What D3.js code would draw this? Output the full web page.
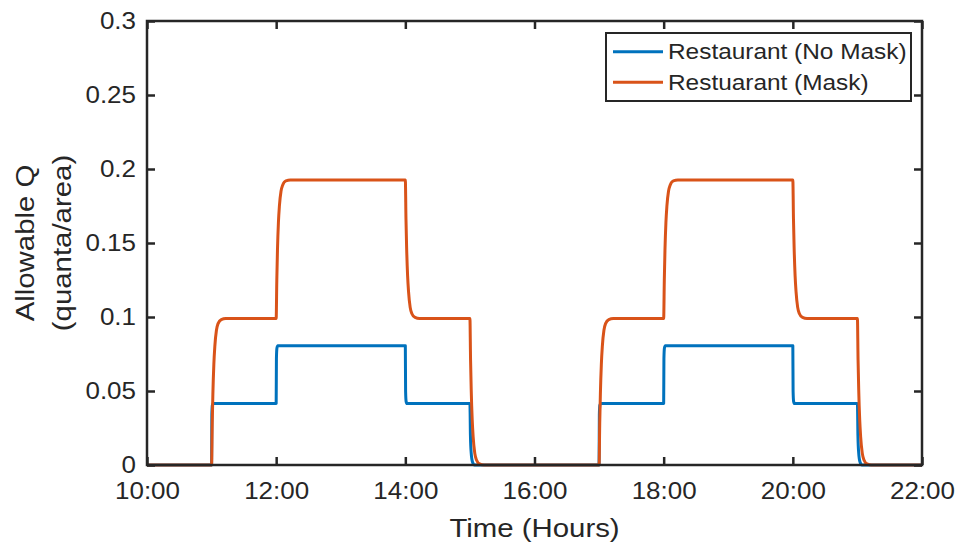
<!DOCTYPE html>
<html>
<head>
<meta charset="utf-8">
<script src="https://cdn.jsdelivr.net/npm/d3@7/dist/d3.min.js"></script>
<style>
  html, body { margin: 0; padding: 0; background: #fff; }
  svg text { font-family: "Liberation Sans", Arial, Helvetica, sans-serif; fill: #262626; }
</style>
</head>
<body>
<svg id="chart" width="961" height="549"></svg>
<script>
// Allowable quanta emission rate per floor area over a restaurant's opening hours

// Time (hours) and allowable Q for the restaurant without masks
const hoursNoMask = [
  10, 11, 11.004, 11.012, 11.025, 12, 12.004, 12.012, 12.025,
  14, 14.004, 14.012, 14.025, 15, 15.008, 15.02, 15.04, 15.07,
  17, 17.004, 17.012, 17.025, 18, 18.004, 18.012, 18.025,
  20, 20.004, 20.012, 20.025, 21, 21.008, 21.02, 21.04, 21.07, 22
];
const qNoMask = [
  0, 0, 0.034, 0.0405, 0.0415, 0.0415, 0.072, 0.079, 0.0806,
  0.0806, 0.05, 0.043, 0.0415, 0.0415, 0.02, 0.008, 0.002, 0,
  0, 0.034, 0.0405, 0.0415, 0.0415, 0.072, 0.079, 0.0806,
  0.0806, 0.05, 0.043, 0.0415, 0.0415, 0.02, 0.008, 0.002, 0, 0
];

// Time (hours) and allowable Q for the restaurant with masks
const hoursMask = [
  10,
  11, 11.01, 11.02, 11.035, 11.05, 11.075, 11.1, 11.15, 11.22,
  12, 12.01, 12.02, 12.035, 12.05, 12.075, 12.1, 12.15, 12.22,
  14, 14.01, 14.02, 14.035, 14.05, 14.075, 14.1, 14.15, 14.22,
  15, 15.01, 15.02, 15.035, 15.05, 15.075, 15.1, 15.15, 15.22,
  17, 17.01, 17.02, 17.035, 17.05, 17.075, 17.1, 17.15, 17.22,
  18, 18.01, 18.02, 18.035, 18.05, 18.075, 18.1, 18.15, 18.22,
  20, 20.01, 20.02, 20.035, 20.05, 20.075, 20.1, 20.15, 20.22,
  21, 21.01, 21.02, 21.035, 21.05, 21.075, 21.1, 21.15, 21.22,
  22
];
const qMask = [
  0,
  0, 0.028, 0.048, 0.068, 0.080, 0.091, 0.0955, 0.0983, 0.099,
  0.099, 0.125, 0.145, 0.164, 0.175, 0.185, 0.189, 0.192, 0.1925,
  0.1925, 0.166, 0.147, 0.128, 0.117, 0.1065, 0.1024, 0.0997, 0.099,
  0.099, 0.071, 0.051, 0.031, 0.019, 0.008, 0.0036, 0.0007, 0,
  0, 0.028, 0.048, 0.068, 0.080, 0.091, 0.0955, 0.0983, 0.099,
  0.099, 0.125, 0.145, 0.164, 0.175, 0.185, 0.189, 0.192, 0.1925,
  0.1925, 0.166, 0.147, 0.128, 0.117, 0.1065, 0.1024, 0.0997, 0.099,
  0.099, 0.071, 0.051, 0.031, 0.019, 0.008, 0.0036, 0.0007, 0,
  0
];

const seriesNames = ["Restaurant (No Mask)", "Restuarant (Mask)"];
const xTicks = [10, 12, 14, 16, 18, 20, 22];
const xTickLabels = ["10:00", "12:00", "14:00", "16:00", "18:00", "20:00", "22:00"];
const yTicks = [0, 0.05, 0.1, 0.15, 0.2, 0.25, 0.3];
const yTickLabels = ["0", "0.05", "0.1", "0.15", "0.2", "0.25", "0.3"];

const colors = ["#0072BD", "#D95319"];
const axisColor = "#262626";
const stretch = 1.13;   // horizontal glyph widening

const svg = d3.select("#chart");
const plot = { left: 147, right: 922, top: 21, bottom: 465 };

const x = d3.scaleLinear().domain([10, 22]).range([plot.left, plot.right]);
const y = d3.scaleLinear().domain([0, 0.3]).range([plot.bottom, plot.top]);

// Data lines
const line = d3.line()
  .x(d => x(d[0]))
  .y(d => y(d[1]))
  .curve(d3.curveMonotoneX);

const series = [
  d3.zip(hoursNoMask, qNoMask),
  d3.zip(hoursMask, qMask)
];

svg.append("g")
  .selectAll("path")
  .data(series)
  .join("path")
  .attr("d", line)
  .attr("fill", "none")
  .attr("stroke", (d, i) => colors[i])
  .attr("stroke-width", 3)
  .attr("stroke-linejoin", "round");

// Axes with inward ticks on all four sides
function styleAxis(g) {
  g.select(".domain").remove();
  g.selectAll(".tick line").attr("stroke", axisColor).attr("stroke-width", 2.5);
  g.selectAll(".tick text")
    .attr("fill", axisColor)
    .style("font-family", "'Liberation Sans', Arial, sans-serif")
    .style("font-size", "23px");
}

const yLabelMap = new Map(yTicks.map((v, i) => [v, yTickLabels[i]]));
const xLabelMap = new Map(xTicks.map((v, i) => [v, xTickLabels[i]]));

const gx = svg.append("g")
  .attr("transform", `translate(0,${plot.bottom})`)
  .call(d3.axisBottom(x).tickValues(xTicks).tickFormat(d => xLabelMap.get(d))
    .tickSizeInner(-8).tickSizeOuter(0).tickPadding(18))
  .call(styleAxis);
gx.selectAll(".tick text").attr("transform", `scale(${stretch},1)`);

const yPad = 11;
const gy = svg.append("g")
  .attr("transform", `translate(${plot.left},0)`)
  .call(d3.axisLeft(y).tickValues(yTicks).tickFormat(d => yLabelMap.get(d))
    .tickSizeInner(-8).tickSizeOuter(0).tickPadding(yPad))
  .call(styleAxis);
gy.selectAll(".tick text")
  .attr("transform", `translate(${-yPad},0) scale(${stretch},1) translate(${yPad},0)`);

svg.append("g")
  .attr("transform", `translate(0,${plot.top})`)
  .call(d3.axisTop(x).tickValues(xTicks).tickFormat("").tickSizeInner(-8).tickSizeOuter(0))
  .call(styleAxis);

svg.append("g")
  .attr("transform", `translate(${plot.right},0)`)
  .call(d3.axisRight(y).tickValues(yTicks).tickFormat("").tickSizeInner(-8).tickSizeOuter(0))
  .call(styleAxis);

// Box around the plot area
svg.append("rect")
  .attr("x", plot.left)
  .attr("y", plot.top)
  .attr("width", plot.right - plot.left)
  .attr("height", plot.bottom - plot.top)
  .attr("fill", "none")
  .attr("stroke", axisColor)
  .attr("stroke-width", 2.5);

// Axis titles
svg.append("text")
  .attr("transform", `translate(${(plot.left + plot.right) / 2},537) scale(${stretch},1)`)
  .attr("text-anchor", "middle")
  .style("font-size", "26px")
  .text("Time (Hours)");

const yTitle = svg.append("text")
  .attr("transform", `translate(0,${(plot.top + plot.bottom) / 2}) rotate(-90) scale(${stretch},1)`)
  .attr("text-anchor", "middle")
  .style("font-size", "26px");
yTitle.append("tspan").attr("x", 0).attr("y", 34).text("Allowable Q");
yTitle.append("tspan").attr("x", 0).attr("y", 71).text("(quanta/area)");

// Legend
const legend = svg.append("g");
legend.append("rect")
  .attr("x", 606).attr("y", 33)
  .attr("width", 305).attr("height", 68)
  .attr("fill", "#fff")
  .attr("stroke", axisColor)
  .attr("stroke-width", 2);

const rowY = [51.7, 82.3];
seriesNames.forEach((name, i) => {
  legend.append("line")
    .attr("x1", 613).attr("x2", 663)
    .attr("y1", rowY[i]).attr("y2", rowY[i])
    .attr("stroke", colors[i])
    .attr("stroke-width", 3);
  legend.append("text")
    .attr("transform", `translate(668,${rowY[i] + 7.7}) scale(${stretch},1)`)
    .style("font-size", "21.6px")
    .attr("fill", "#000")
    .text(name);
});
</script>
</body>
</html>
